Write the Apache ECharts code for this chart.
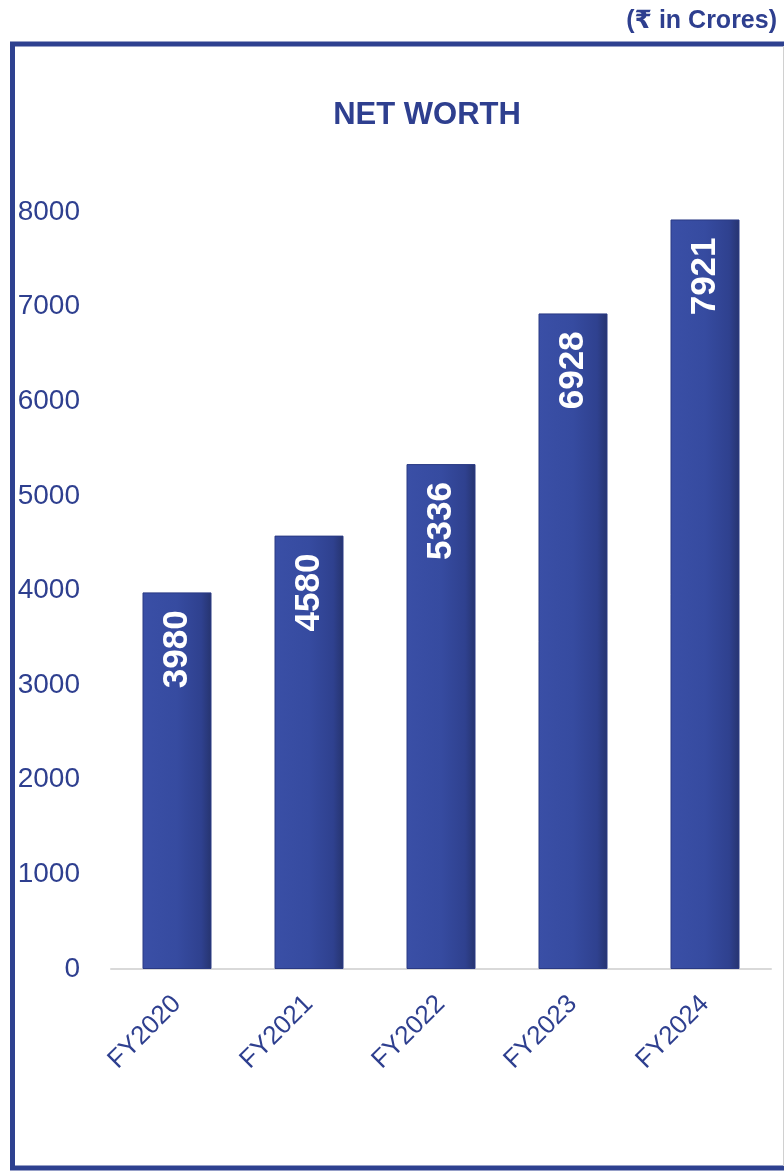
<!DOCTYPE html>
<html>
<head>
<meta charset="utf-8">
<script src="https://cdn.jsdelivr.net/npm/echarts@6/dist/echarts.min.js"></script>
<style>
html,body{margin:0;padding:0;background:#fff;}
#chart{width:784px;height:1172px;}
</style>
</head>
<body>
<div id="chart"></div>
<script>
const categories = ['FY2020', 'FY2021', 'FY2022', 'FY2023', 'FY2024'];
const netWorth = [3980, 4580, 5336, 6928, 7921];
const titleText = 'NET WORTH';
const unitText = '(₹ in Crores)';

const navy = '#2E3F8F';
const chart = echarts.init(document.getElementById('chart'), null, {renderer: 'canvas'});
chart.setOption({
  backgroundColor: '#ffffff',
  animation: false,
  title: [
    {text: titleText, left: 422, top: 95, textAlign: 'center',
     textStyle: {fontFamily: 'Liberation Sans, Arial, sans-serif', fontSize: 31, fontWeight: 'bold', color: navy}},
    {text: unitText, right: 2, top: 4,
     textStyle: {fontFamily: 'Liberation Sans, DejaVu Sans, sans-serif', fontSize: 25, fontWeight: 'bold', color: navy}}
  ],
  graphic: [
    {type: 'rect', shape: {x: 12.5, y: 44, width: 840, height: 1124}, style: {fill: 'none', stroke: '#2E4190', lineWidth: 5}, z: 0},
    {type: 'line', shape: {x1: 783.5, y1: 46, x2: 783.5, y2: 1166}, style: {stroke: '#D0D0D0', lineWidth: 1}}
  ],
  grid: {left: 111, right: 13, top: 212, bottom: 203, containLabel: false},
  xAxis: {
    type: 'category',
    data: categories,
    axisLine: {lineStyle: {color: '#D9D9D9', width: 2}},
    axisTick: {show: false},
    axisLabel: {rotate: 45, margin: 31, fontSize: 26, color: navy, fontFamily: 'Liberation Sans, Arial, sans-serif'}
  },
  yAxis: {
    type: 'value',
    min: 0, max: 8000, interval: 1000,
    axisLine: {show: false},
    axisTick: {show: false},
    splitLine: {show: false},
    axisLabel: {margin: 31, fontSize: 28, color: navy, fontFamily: 'Liberation Sans, Arial, sans-serif',
      formatter: function (v) { return String(v); }}
  },
  series: [{
    type: 'bar',
    data: netWorth,
    barWidth: 69,
    itemStyle: {
      color: new echarts.graphic.LinearGradient(0, 0, 1, 0, [
        {offset: 0, color: '#3A4FA6'},
        {offset: 0.5, color: '#364BA0'},
        {offset: 0.85, color: '#2F418F'},
        {offset: 1, color: '#26346F'}
      ]),
      borderColor: '#2A3A84', borderWidth: 1
    },
    label: {
      show: true,
      position: 'insideTop',
      rotate: 90,
      align: 'right',
      verticalAlign: 'middle',
      distance: 18,
      color: '#ffffff',
      fontSize: 35,
      fontWeight: 'bold',
      fontFamily: 'Liberation Sans, Arial, sans-serif'
    }
  }]
});
</script>
</body>
</html>
